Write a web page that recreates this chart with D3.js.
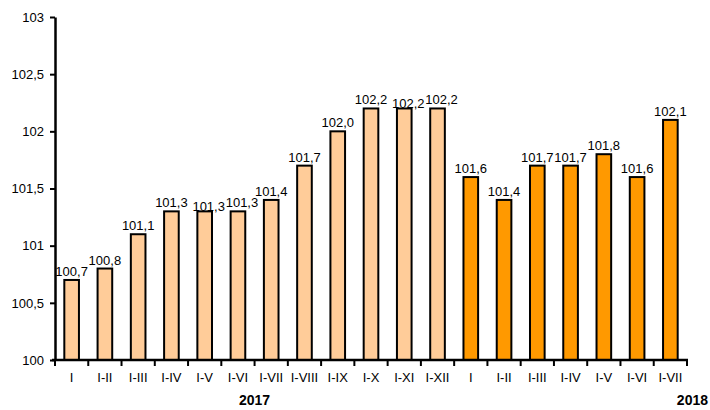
<!DOCTYPE html>
<html>
<head>
<meta charset="utf-8">
<script src="https://cdn.jsdelivr.net/npm/d3@7"></script>
<style>
  body { margin: 0; background: #fff; }
  text { font-family: "Liberation Sans", Arial, sans-serif; }
</style>
</head>
<body>
<div id="chart"></div>
<script>
const categories = ["I", "I-II", "I-III", "I-IV", "I-V", "I-VI", "I-VII", "I-VIII", "I-IX", "I-X", "I-XI", "I-XII",
                    "I", "I-II", "I-III", "I-IV", "I-V", "I-VI", "I-VII"];
const values = [100.7, 100.8, 101.1, 101.3, 101.3, 101.3, 101.4, 101.7, 102.0, 102.2, 102.2, 102.2,
                101.6, 101.4, 101.7, 101.7, 101.8, 101.6, 102.1];
const years = ["2017", "2017", "2017", "2017", "2017", "2017", "2017", "2017", "2017", "2017", "2017", "2017",
               "2018", "2018", "2018", "2018", "2018", "2018", "2018"];
const yTicks = [100, 100.5, 101, 101.5, 102, 102.5, 103];

const width = 710, height = 410;
const margin = {top: 17, right: 23, bottom: 50, left: 55};

const colors = {"2017": "#FFCC99", "2018": "#FF9900"};
const fmt = d => d3.format(".1f")(d).replace(".", ",");
const fmtTick = d => String(d).replace(".", ",");

const svg = d3.select("#chart")
    .append("svg")
    .attr("width", width)
    .attr("height", height);

const x = d3.scaleBand()
    .domain(d3.range(categories.length))
    .range([margin.left, width - margin.right])
    .paddingInner(0.56)
    .paddingOuter(0.28);

const y = d3.scaleLinear()
    .domain([100, 103])
    .range([height - margin.bottom, margin.top]);

// bars
svg.selectAll(".bar")
    .data(values)
    .enter()
    .append("rect")
    .attr("class", "bar")
    .attr("x", (d, i) => x(i))
    .attr("y", d => y(d))
    .attr("width", x.bandwidth())
    .attr("height", d => y(100) - y(d))
    .attr("fill", (d, i) => colors[years[i]])
    .attr("stroke", "#000")
    .attr("stroke-width", 2);

// in a run of three equal values the middle label is dropped a bit, the last moved right
const middleOfRun = i => i > 0 && i < values.length - 1 &&
    values[i - 1] === values[i] && values[i + 1] === values[i];

svg.selectAll(".val")
    .data(values)
    .enter()
    .append("text")
    .attr("class", "val")
    .attr("x", (d, i) => x(i) + x.bandwidth() / 2 + (middleOfRun(i) || middleOfRun(i - 1) ? 4 : 0))
    .attr("y", (d, i) => y(d) - (middleOfRun(i) ? 0 : 4))
    .attr("text-anchor", "middle")
    .attr("font-size", 13)
    .attr("fill", "#000")
    .text(fmt);

// y axis
const yAxis = svg.append("g")
    .attr("transform", `translate(${margin.left},0)`)
    .call(d3.axisLeft(y).tickValues(yTicks).tickSize(5).tickSizeOuter(0).tickFormat(fmtTick));
yAxis.select(".domain").attr("stroke-width", 2.5);
yAxis.selectAll(".tick line").attr("stroke-width", 2);
yAxis.selectAll(".tick text").attr("font-size", 13).attr("x", -11)
    .style("font-family", "'Liberation Sans', Arial, sans-serif");

// x axis line with ticks at category boundaries
const step = x.step();
const boundaries = d3.range(categories.length + 1).map(i => margin.left + i * (width - margin.right - margin.left) / categories.length);
const xg = svg.append("g");
xg.append("line")
    .attr("x1", margin.left - 3)
    .attr("x2", width - margin.right + 1)
    .attr("y1", y(100))
    .attr("y2", y(100))
    .attr("stroke", "#000")
    .attr("stroke-width", 2.5);
xg.selectAll(".bt")
    .data(boundaries)
    .enter()
    .append("line")
    .attr("x1", d => d)
    .attr("x2", d => d)
    .attr("y1", y(100))
    .attr("y2", y(100) + 6)
    .attr("stroke", "#000")
    .attr("stroke-width", 2);
xg.selectAll(".cat")
    .data(categories)
    .enter()
    .append("text")
    .attr("x", (d, i) => x(i) + x.bandwidth() / 2)
    .attr("y", y(100) + 22)
    .attr("text-anchor", "middle")
    .attr("font-size", 13)
    .text(d => d);

// year labels
svg.append("text")
    .attr("x", x(5) + x.bandwidth() / 2 + step / 2)
    .attr("y", 405)
    .attr("text-anchor", "middle")
    .attr("font-size", 14)
    .attr("font-weight", "bold")
    .text("2017");
svg.append("text")
    .attr("x", 708)
    .attr("y", 405)
    .attr("text-anchor", "end")
    .attr("font-size", 14)
    .attr("font-weight", "bold")
    .text("2018");
</script>
</body>
</html>
